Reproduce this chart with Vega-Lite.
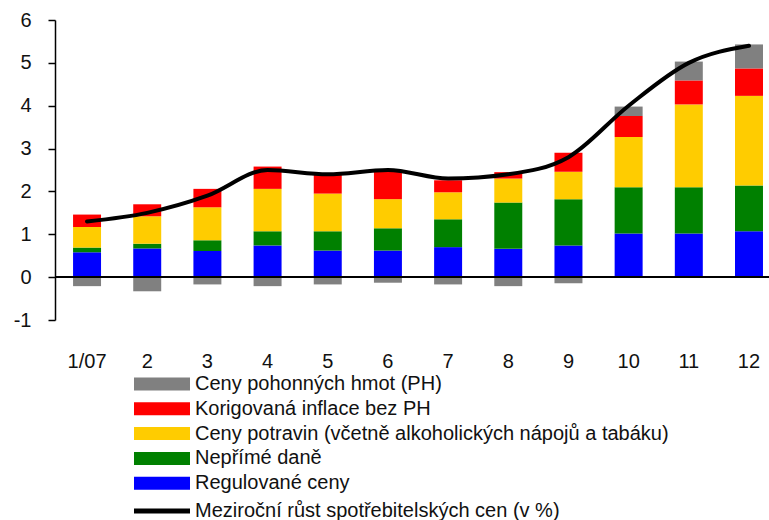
{
  "$schema": "https://vega.github.io/schema/vega-lite/v6.json",
  "autosize": {"type": "none"},
  "padding": {"left": 55, "top": 20, "right": 0, "bottom": 200},
  "width": 714,
  "height": 300,
  "background": "white",
  "config": {
    "view": {"stroke": null},
    "font": "Liberation Sans",
    "axis": {"labelFont": "Liberation Sans", "labelColor": "#111", "grid": false},
    "legend": {"labelFont": "Liberation Sans"}
  },
  "datasets": {
    "bars": [
      {"m": "1/07", "s": "Regulované ceny", "v": 0.58},
      {"m": "1/07", "s": "Nepřímé daně", "v": 0.11},
      {"m": "1/07", "s": "Ceny potravin (včetně  alkoholických nápojů a tabáku)", "v": 0.48},
      {"m": "1/07", "s": "Korigovaná inflace bez PH", "v": 0.29},
      {"m": "1/07", "s": "Ceny pohonných hmot (PH)", "v": -0.21},
      {"m": "2", "s": "Regulované ceny", "v": 0.67},
      {"m": "2", "s": "Nepřímé daně", "v": 0.11},
      {"m": "2", "s": "Ceny potravin (včetně  alkoholických nápojů a tabáku)", "v": 0.64},
      {"m": "2", "s": "Korigovaná inflace bez PH", "v": 0.28},
      {"m": "2", "s": "Ceny pohonných hmot (PH)", "v": -0.33},
      {"m": "3", "s": "Regulované ceny", "v": 0.61},
      {"m": "3", "s": "Nepřímé daně", "v": 0.25},
      {"m": "3", "s": "Ceny potravin (včetně  alkoholických nápojů a tabáku)", "v": 0.77},
      {"m": "3", "s": "Korigovaná inflace bez PH", "v": 0.43},
      {"m": "3", "s": "Ceny pohonných hmot (PH)", "v": -0.17},
      {"m": "4", "s": "Regulované ceny", "v": 0.74},
      {"m": "4", "s": "Nepřímé daně", "v": 0.33},
      {"m": "4", "s": "Ceny potravin (včetně  alkoholických nápojů a tabáku)", "v": 0.99},
      {"m": "4", "s": "Korigovaná inflace bez PH", "v": 0.52},
      {"m": "4", "s": "Ceny pohonných hmot (PH)", "v": -0.21},
      {"m": "5", "s": "Regulované ceny", "v": 0.62},
      {"m": "5", "s": "Nepřímé daně", "v": 0.45},
      {"m": "5", "s": "Ceny potravin (včetně  alkoholických nápojů a tabáku)", "v": 0.88},
      {"m": "5", "s": "Korigovaná inflace bez PH", "v": 0.45},
      {"m": "5", "s": "Ceny pohonných hmot (PH)", "v": -0.17},
      {"m": "6", "s": "Regulované ceny", "v": 0.62},
      {"m": "6", "s": "Nepřímé daně", "v": 0.52},
      {"m": "6", "s": "Ceny potravin (včetně  alkoholických nápojů a tabáku)", "v": 0.68},
      {"m": "6", "s": "Korigovaná inflace bez PH", "v": 0.66},
      {"m": "6", "s": "Ceny pohonných hmot (PH)", "v": -0.13},
      {"m": "7", "s": "Regulované ceny", "v": 0.70},
      {"m": "7", "s": "Nepřímé daně", "v": 0.65},
      {"m": "7", "s": "Ceny potravin (včetně  alkoholických nápojů a tabáku)", "v": 0.63},
      {"m": "7", "s": "Korigovaná inflace bez PH", "v": 0.28},
      {"m": "7", "s": "Ceny pohonných hmot (PH)", "v": -0.17},
      {"m": "8", "s": "Regulované ceny", "v": 0.66},
      {"m": "8", "s": "Nepřímé daně", "v": 1.08},
      {"m": "8", "s": "Ceny potravin (včetně  alkoholických nápojů a tabáku)", "v": 0.56},
      {"m": "8", "s": "Korigovaná inflace bez PH", "v": 0.15},
      {"m": "8", "s": "Ceny pohonných hmot (PH)", "v": -0.21},
      {"m": "9", "s": "Regulované ceny", "v": 0.74},
      {"m": "9", "s": "Nepřímé daně", "v": 1.08},
      {"m": "9", "s": "Ceny potravin (včetně  alkoholických nápojů a tabáku)", "v": 0.64},
      {"m": "9", "s": "Korigovaná inflace bez PH", "v": 0.44},
      {"m": "9", "s": "Ceny pohonných hmot (PH)", "v": -0.14},
      {"m": "10", "s": "Regulované ceny", "v": 1.02},
      {"m": "10", "s": "Nepřímé daně", "v": 1.08},
      {"m": "10", "s": "Ceny potravin (včetně  alkoholických nápojů a tabáku)", "v": 1.17},
      {"m": "10", "s": "Korigovaná inflace bez PH", "v": 0.49},
      {"m": "10", "s": "Ceny pohonných hmot (PH)", "v": 0.22},
      {"m": "11", "s": "Regulované ceny", "v": 1.02},
      {"m": "11", "s": "Nepřímé daně", "v": 1.08},
      {"m": "11", "s": "Ceny potravin (včetně  alkoholických nápojů a tabáku)", "v": 1.93},
      {"m": "11", "s": "Korigovaná inflace bez PH", "v": 0.56},
      {"m": "11", "s": "Ceny pohonných hmot (PH)", "v": 0.44},
      {"m": "12", "s": "Regulované ceny", "v": 1.07},
      {"m": "12", "s": "Nepřímé daně", "v": 1.07},
      {"m": "12", "s": "Ceny potravin (včetně  alkoholických nápojů a tabáku)", "v": 2.09},
      {"m": "12", "s": "Korigovaná inflace bez PH", "v": 0.64},
      {"m": "12", "s": "Ceny pohonných hmot (PH)", "v": 0.56}
    ],
    "cpi": [
      {"m": "1/07", "v": 1.3},
      {"m": "2", "v": 1.5},
      {"m": "3", "v": 1.9},
      {"m": "4", "v": 2.5},
      {"m": "5", "v": 2.4},
      {"m": "6", "v": 2.5},
      {"m": "7", "v": 2.3},
      {"m": "8", "v": 2.4},
      {"m": "9", "v": 2.8},
      {"m": "10", "v": 4.0},
      {"m": "11", "v": 5.0},
      {"m": "12", "v": 5.4}
    ]
  },
  "encoding": {
    "x": {
      "field": "m",
      "type": "ordinal",
      "sort": ["1/07", "2", "3", "4", "5", "6", "7", "8", "9", "10", "11", "12"],
      "scale": {"paddingInner": 0.535, "paddingOuter": 0.2, "align": 0.75},
      "axis": {
        "title": null,
        "domain": false,
        "ticks": false,
        "labelAngle": 0,
        "labelFontSize": 20,
        "labelPadding": 31,
        "labelBaseline": "top"
      }
    }
  },
  "layer": [
    {
      "data": {"name": "bars"},
      "transform": [
        {"calculate": "indexof(['Regulované ceny','Nepřímé daně','Ceny potravin (včetně  alkoholických nápojů a tabáku)','Korigovaná inflace bez PH','Ceny pohonných hmot (PH)'], datum.s)", "as": "rank"}
      ],
      "mark": {"type": "bar"},
      "encoding": {
        "y": {
          "field": "v",
          "type": "quantitative",
          "stack": "zero",
          "scale": {"domain": [-1, 6], "nice": false, "zero": false},
          "axis": {
            "title": null,
            "values": [-1, 0, 1, 2, 3, 4, 5, 6],
            "labelExpr": "replace(datum.label, '−', '-')",
            "domainColor": "black",
            "domainWidth": 1.5,
            "tickColor": "black",
            "tickSize": 7,
            "tickWidth": 1.5,
            "labelFontSize": 20,
            "labelPadding": 17
          }
        },
        "color": {
          "field": "s",
          "type": "nominal",
          "sort": ["Ceny pohonných hmot (PH)", "Korigovaná inflace bez PH", "Ceny potravin (včetně  alkoholických nápojů a tabáku)", "Nepřímé daně", "Regulované ceny"],
          "scale": {
            "domain": ["Ceny pohonných hmot (PH)", "Korigovaná inflace bez PH", "Ceny potravin (včetně  alkoholických nápojů a tabáku)", "Nepřímé daně", "Regulované ceny"],
            "range": ["#808080", "#FF0000", "#FFCC00", "#008000", "#0000FF"]
          },
          "legend": {
            "title": null,
            "orient": "none",
            "legendX": 97,
            "legendY": 354,
            "symbolType": "M-4,-0.93H4V0.93H-4Z",
            "symbolSize": 196,
            "symbolStrokeWidth": 0,
            "symbolOpacity": 1,
            "labelFontSize": 20,
            "labelColor": "#111",
            "labelOffset": 23,
            "rowPadding": 4.8,
            "labelLimit": 700
          }
        },
        "order": {"field": "rank", "type": "quantitative"}
      }
    },
    {
      "data": {"name": "cpi"},
      "mark": {"type": "rule", "color": "black", "strokeWidth": 1.2},
      "encoding": {
        "y": {"datum": 0, "type": "quantitative"},
        "x": null
      }
    },
    {
      "data": {"name": "cpi"},
      "mark": {"type": "line", "strokeWidth": 4, "interpolate": "monotone", "strokeCap": "round", "strokeJoin": "round"},
      "encoding": {
        "y": {"field": "v", "type": "quantitative"},
        "stroke": {
          "datum": "Meziroční růst spotřebitelských cen (v %)",
          "type": "nominal",
          "scale": {"range": ["black"]},
          "legend": {
            "title": null,
            "orient": "none",
            "legendX": 97,
            "legendY": 481,
            "symbolType": "M-4,0H4",
            "symbolSize": 196,
            "symbolStrokeWidth": 5,
            "symbolStrokeColor": "black",
            "labelFontSize": 20,
            "labelColor": "#111",
            "labelOffset": 23,
            "labelLimit": 700
          }
        }
      }
    }
  ]
}
